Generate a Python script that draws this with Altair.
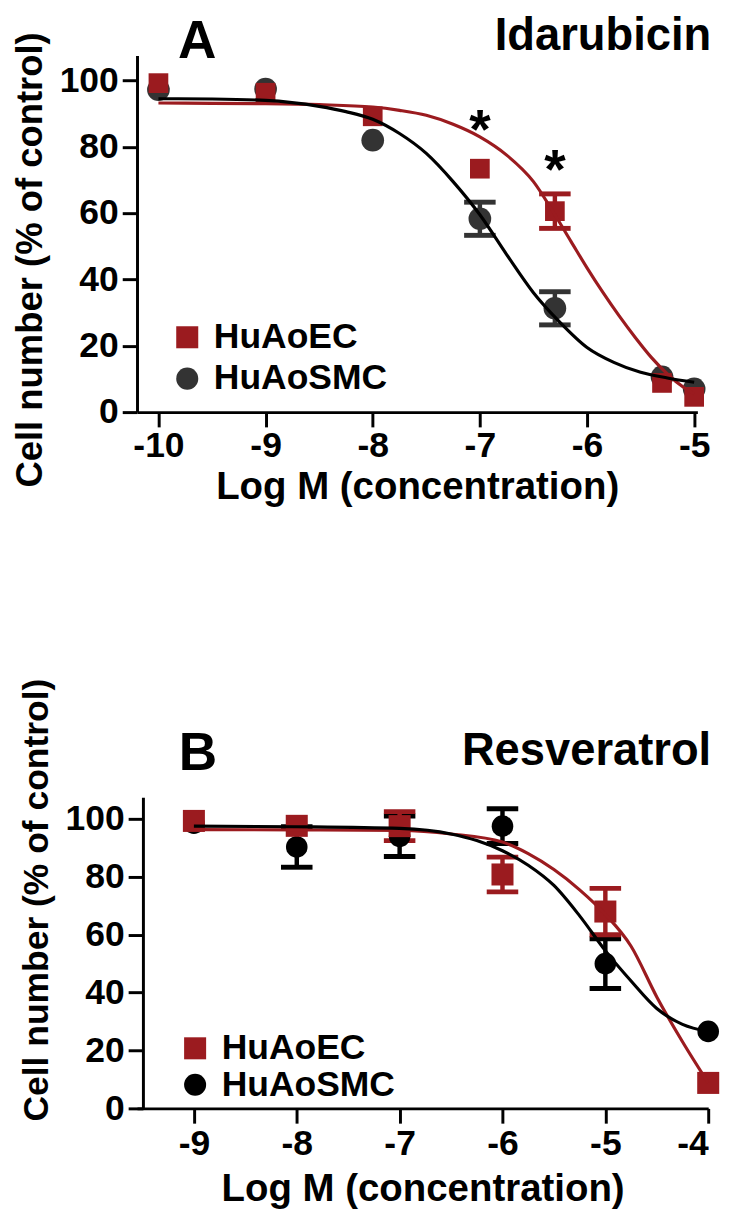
import altair as alt
import pandas as pd

FONT = "Liberation Sans"
RED = "#9b1b1f"
DARK = "#333333"
BLACK = "#000000"
SERIES = ["HuAoEC", "HuAoSMC"]

# ---------------- Panel A : Idarubicin ----------------
a_conc = [-10, -9, -8, -7, -6.3, -5.3, -5]
a_ec_mean = [99.2, 96.3, 89.2, 73.4, 60.6, 8.8, 4.6]
a_ec_sem = [0, 0, 0, 0, 5.2, 0, 0]
a_smc_mean = [97.2, 97.4, 82.0, 58.3, 31.3, 10.6, 7.0]
a_smc_sem = [0, 0, 0, 5.0, 5.0, 0, 0]
a_ec_fit_x = [-10, -9.5, -9, -8.5, -8, -7.75, -7.5, -7.25, -7, -6.75, -6.5,
              -6.3, -6.15, -6.0, -5.85, -5.7, -5.55, -5.4, -5.25, -5.1, -5]
a_ec_fit_y = [93.2, 93.1, 93.0, 92.7, 92.0, 91.0, 89.5, 86.8, 83.0, 77.5, 69.5,
              59.5, 51.5, 43.5, 36.0, 29.0, 22.5, 16.5, 11.5, 7.5, 5.5]
a_smc_fit_x = [-10, -9.5, -9, -8.5, -8.25, -8, -7.75, -7.5, -7.25, -7, -6.75,
               -6.5, -6.25, -6, -5.75, -5.5, -5.25, -5]
a_smc_fit_y = [94.5, 94.4, 94.0, 92.2, 90.6, 88.3, 84.0, 78.0, 69.5, 59.5, 47.5,
               36.0, 27.0, 19.5, 15.0, 12.0, 10.3, 9.0]
a_star_x = [-7.0, -6.3]
a_star_y = [88.5, 76.5]
a_xticks = [-10, -9, -8, -7, -6, -5]

# ---------------- Panel B : Resveratrol ----------------
b_conc = [-9, -8, -7, -6, -5, -4]
b_ec_mean = [99.3, 97.6, 97.5, 80.8, 68.0, 8.8]
b_ec_sem = [0, 0, 5.0, 6.0, 8.0, 0]
b_smc_mean = [98.5, 90.3, 94.0, 97.5, 50.0, 26.6]
b_smc_sem = [0, 7.0, 7.0, 6.0, 8.6, 0]
b_ec_fit_x = [-9, -8, -7, -6.5, -6, -5.75, -5.5, -5.25, -5, -4.75, -4.5, -4.25, -4]
b_ec_fit_y = [96.3, 96.2, 96.0, 94.8, 92.0, 88.0, 82.5, 75.5, 67.0, 56.0, 38.5, 23.0, 8.8]
b_smc_fit_x = [-9, -8, -7, -6.5, -6.25, -6, -5.75, -5.5, -5.25, -5, -4.75, -4.5, -4.25, -4]
b_smc_fit_y = [97.5, 97.3, 96.7, 94.8, 92.5, 89.0, 84.0, 77.0, 66.5, 54.5, 44.0, 34.5, 29.0, 26.5]
b_xticks = [-9, -8, -7, -6, -5, -4]

Y_TICKS = [0, 20, 40, 60, 80, 100]


def make_panel(conc, ec, ec_sem, smc, smc_sem, ec_fx, ec_fy, smc_fx, smc_fy,
               xdom, xticks, width, height, smc_color, sq_size, ci_size,
               letter, drug, y_offset, title_y, title_size, leg_x, leg_y, leg_row,
               x_label_pad, x_title_pad, stars=None):
    def X():
        return alt.X("conc:Q",
                     scale=alt.Scale(domain=xdom, nice=False, zero=False),
                     axis=alt.Axis(values=xticks, labelExpr="toString(datum.value)",
                                   title="Log M (concentration)", grid=False,
                                   labelPadding=x_label_pad, titlePadding=x_title_pad))

    def Y(field="val"):
        return alt.Y(f"{field}:Q",
                     scale=alt.Scale(domain=[0, 107.5], nice=False),
                     axis=alt.Axis(values=Y_TICKS, title="Cell number (% of control)",
                                   grid=False, offset=y_offset, titleY=title_y,
                                   titleFontSize=title_size))

    ec_df = pd.DataFrame({"conc": conc, "val": ec, "sem": ec_sem, "series": "HuAoEC"})
    smc_df = pd.DataFrame({"conc": conc, "val": smc, "sem": smc_sem, "series": "HuAoSMC"})
    for d in (ec_df, smc_df):
        d["lo"] = d["val"] - d["sem"]
        d["hi"] = d["val"] + d["sem"]

    def legend():
        return alt.Legend(title=None, orient="none", legendX=leg_x, legendY=leg_y,
                          labelFont=FONT, labelFontSize=36, labelFontWeight="bold",
                          labelColor="black", labelLimit=400, symbolSize=500,
                          symbolStrokeWidth=0, symbolOpacity=1,
                          rowPadding=leg_row, labelOffset=9, padding=0)

    color = alt.Color("series:N", scale=alt.Scale(domain=SERIES, range=[RED, smc_color]),
                      legend=legend())
    shape = alt.Shape("series:N", scale=alt.Scale(domain=SERIES, range=["square", "circle"]),
                      legend=legend())

    layers = []
    for d, col in ((smc_df, smc_color), (ec_df, RED)):
        e = d[d["sem"] > 0]
        if len(e):
            base = alt.Chart(e)
            layers.append(base.mark_rule(color=col, strokeWidth=4.5, opacity=1).encode(
                x=X(), y=Y("lo"), y2="hi:Q"))
            layers.append(base.mark_tick(color=col, orient="horizontal", size=32,
                                         thickness=5, opacity=1).encode(x=X(), y=Y("lo")))
            layers.append(base.mark_tick(color=col, orient="horizontal", size=32,
                                         thickness=5, opacity=1).encode(x=X(), y=Y("hi")))

    layers.append(alt.Chart(smc_df).mark_point(filled=True, opacity=1, size=ci_size,
                                                strokeWidth=0).encode(
        x=X(), y=Y(), color=color, shape=shape))
    layers.append(alt.Chart(ec_df).mark_point(filled=True, opacity=1, size=sq_size,
                                               strokeWidth=0).encode(
        x=X(), y=Y(), color=color, shape=shape))

    ec_fit = pd.DataFrame({"conc": ec_fx, "val": ec_fy})
    smc_fit = pd.DataFrame({"conc": smc_fx, "val": smc_fy})
    layers.append(alt.Chart(ec_fit).mark_line(color=RED, strokeWidth=3.2,
                                              interpolate="monotone").encode(x=X(), y=Y()))
    layers.append(alt.Chart(smc_fit).mark_line(color=BLACK, strokeWidth=3.2,
                                               interpolate="monotone").encode(x=X(), y=Y()))

    if stars is not None:
        sdf = pd.DataFrame({"conc": stars[0], "val": stars[1], "t": "*"})
        layers.append(alt.Chart(sdf).mark_text(font=FONT, fontSize=56, fontWeight="bold",
                                               color="black", baseline="middle", dy=13).encode(
            x=X(), y=Y(), text="t:N"))

    lab = pd.DataFrame({"t": [letter[0]]})
    layers.append(alt.Chart(lab).mark_text(font=FONT, fontSize=54, fontWeight="bold",
                                           color="black", align="center",
                                           baseline="alphabetic").encode(
        x=alt.value(letter[1]), y=alt.value(letter[2]), text=alt.value(letter[0])))
    layers.append(alt.Chart(lab).mark_text(font=FONT, fontSize=46, fontWeight="bold",
                                           color="black", align="right",
                                           baseline="alphabetic").encode(
        x=alt.value(drug[1]), y=alt.value(drug[2]), text=alt.value(drug[0])))

    return alt.layer(*layers).properties(width=width, height=height)


panel_a = make_panel(a_conc, a_ec_mean, a_ec_sem, a_smc_mean, a_smc_sem,
                     a_ec_fit_x, a_ec_fit_y, a_smc_fit_x, a_smc_fit_y,
                     [-10.2, -4.97], a_xticks, 569, 362, DARK, 400, 530,
                     ("A", 61, 2), ("Idarubicin", 583, -6), 0, 207, 37, 33, 268, 6,
                     2, 5, stars=(a_star_x, a_star_y))

panel_b = make_panel(b_conc, b_ec_mean, b_ec_sem, b_smc_mean, b_smc_sem,
                     b_ec_fit_x, b_ec_fit_y, b_smc_fit_x, b_smc_fit_y,
                     [-9.553, -4.0], b_xticks, 580, 316, BLACK, 500, 480,
                     ("B", 62, -28), ("Resveratrol", 583, -33), -6, 104, 36, 41, 237, 1,
                     4, 9)

chart = alt.vconcat(panel_a, panel_b, spacing=174).resolve_scale(
    color="independent", shape="independent"
).properties(
    padding={"left": 3, "top": -4, "right": 2, "bottom": 2}
).configure_view(stroke=None).configure_axis(
    domainColor="black", domainWidth=3, tickColor="black", tickWidth=3, tickSize=15,
    labelFont=FONT, labelFontSize=36, labelFontWeight="bold", labelColor="black",
    titleFont=FONT, titleFontSize=39, titleFontWeight="bold", titleColor="black",
).configure_axisY(labelPadding=4, titlePadding=10)

chart.save("out.html", embed_options={"renderer": "svg", "actions": False})
